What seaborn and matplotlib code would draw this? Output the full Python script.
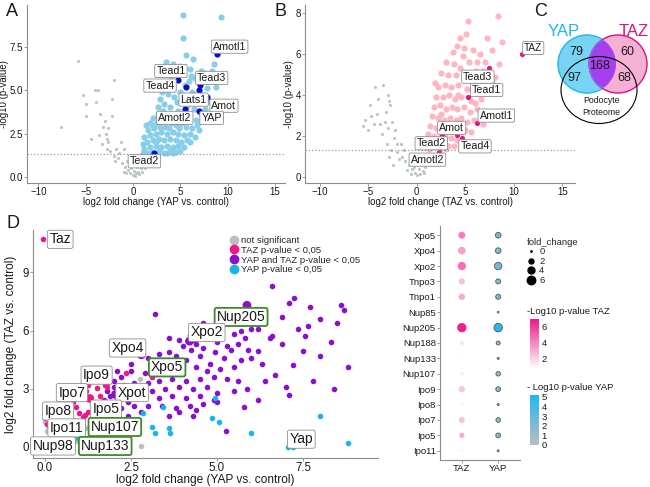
import numpy as np
import pandas as pd
import matplotlib.pyplot as plt
import seaborn as sns
from matplotlib.patches import Ellipse
from matplotlib.colors import LinearSegmentedColormap, Normalize
from matplotlib.cm import ScalarMappable
from matplotlib.lines import Line2D

sns.set_style("ticks")
plt.rcParams["font.family"] = ["Liberation Sans", "DejaVu Sans"]

# ── data: panel A (YAP volcano) ──────────────────────────────────────────────
a_sig_x = [5.3, 9.3, 5.3, 6.3, 3.5, 4.2, 5.0, 5.6, 6.0, 8.5, 7.2, 7.5, 8.3, 8.8, 6.5, 7.8, 8.0, 3.8,
           3.1, 4.3, 6.2, 5.9, 7.4, 6.8, 7.6, 6.0, 2.1, 2.6, 3.3, 3.9, 4.6, 5.2, 5.7, 6.4, 7.2, 2.0,
           2.5, 3.0, 3.5, 4.1, 4.7, 5.3, 5.9, 6.6, 1.6, 2.2, 2.8, 3.4, 4.0, 4.5, 5.1, 5.6, 6.2, 1.2,
           1.8, 2.4, 3.0, 3.6, 4.2, 4.8, 5.4, 6.0, 1.0, 1.5, 2.1, 2.7, 3.3, 3.9, 4.5, 5.1, 5.7, 1.2,
           1.8, 2.4, 3.0, 3.6, 4.2, 4.8, 5.4, 1.5, 2.0, 2.7, 3.3, 3.9, 4.5, 5.0, 1.1, 2.3, 3.6, 4.2,
           2.6, 1.8, 3.2, 4.4, 4.9, 5.5, 6.8, 7.0, 6.5, 1.4, 2.9, 3.7, 4.0, 4.8, 5.5, 6.1, 7.0, 5.0,
           2.4, 3.8]
a_sig_y = [9.3, 9.2, 8.0, 6.8, 6.6, 6.5, 6.4, 7.0, 6.2, 6.5, 6.1, 6.0, 6.1, 5.2, 5.7, 5.1, 4.4, 5.4,
           4.9, 4.6, 4.9, 5.5, 4.7, 4.3, 3.9, 2.0, 3.4, 3.6, 4.2, 4.0, 4.3, 4.5, 4.1, 3.9, 3.6, 3.0,
           3.1, 3.3, 3.5, 3.6, 3.8, 3.6, 3.4, 3.3, 2.7, 2.8, 2.9, 2.9, 3.1, 3.0, 3.1, 2.9, 2.8, 2.3,
           2.4, 2.5, 2.6, 2.5, 2.6, 2.5, 2.4, 2.5, 1.9, 2.0, 2.1, 2.2, 2.1, 2.2, 2.1, 2.0, 2.1, 1.6,
           1.7, 1.8, 1.7, 1.8, 1.7, 1.8, 1.7, 1.4, 1.45, 1.5, 1.4, 1.5, 1.45, 1.5, 1.35, 1.35, 1.35, 1.4,
           4.0, 3.1, 3.8, 3.3, 2.8, 3.3, 3.0, 2.7, 2.3, 3.0, 4.5, 4.8, 5.6, 5.9, 5.3, 5.8, 5.5, 4.9,
           2.0, 2.8]
a_ns_x = [-7.6, -5.8, -5.3, -5.0, -5.0, -4.0, -3.7, -3.9, -3.5, -4.4, -3.2, -2.9, -2.6, -2.2, -2.0,
          -2.2, -1.3, -1.0, -3.3, -2.8, -2.4, -2.0, -1.6, -1.2, -0.8, -0.5, -0.3, 0.0, 0.3, 0.5, 0.8,
          1.0, 1.2, 1.5, -0.6, -1.8, 0.2, 0.6, -2.6, -3.0, -2.7, -1.5, -0.2, 0.4, 0.9, 1.3, 1.8, -1.0,
          -0.7, 0.1, 2.0, -3.6, -1.9, -0.4, 1.6]
a_ns_y = [2.9, 6.7, 4.7, 4.2, 3.5, 5.0, 5.0, 4.3, 3.6, 2.2, 2.9, 2.5, 2.8, 3.5, 5.6,
          4.5, 2.0, 1.6, 1.9, 1.6, 1.5, 1.2, 1.1, 0.8, 0.6, 0.4, 0.25, 0.1, 0.2, 0.3, 0.5,
          0.7, 0.9, 1.0, 0.9, 1.6, 0.05, 0.15, 2.0, 3.2, 2.2, 1.4, 0.5, 0.6, 0.3, 0.5, 0.8, 0.3,
          0.2, 0.35, 1.1, 2.4, 0.9, 0.7, 1.2]
a_hit_names = ["Amotl1", "Tead1", "Tead4", "Tead3", "Lats1", "Amot", "Amotl2", "YAP", "Tead2"]
a_hit_x = [8.9, 4.8, 5.6, 7.1, 7.0, 7.8, 5.5, 7.0, 2.2]
a_hit_y = [7.1, 5.6, 5.2, 5.3, 5.0, 4.6, 3.9, 3.8, 1.35]
a_lab_x = [10.2, 4.0, 2.85, 8.3, 6.4, 9.6, 4.4, 8.3, 1.2]
a_lab_y = [7.5, 6.1, 5.26, 5.7, 4.45, 4.1, 3.4, 3.4, 0.9]

# ── data: panel B (TAZ volcano) ──────────────────────────────────────────────
b_sig_x = [5.3, 8.4, 8.8, 7.2, 4.5, 5.1, 4.2, 5.8, 6.5, 4.8, 6.2, 7.0, 7.8, 3.0, 3.8, 4.5, 5.5, 6.8,
           3.2, 4.0, 5.0, 5.8, 6.4, 2.2, 2.9, 3.5, 4.3, 5.2, 6.0, 7.5, 2.0, 2.7, 3.3, 3.9, 4.6, 5.6,
           6.6, 1.8, 2.4, 3.0, 3.6, 4.2, 4.9, 5.5, 6.2, 7.3, 1.6, 2.2, 2.8, 3.4, 4.0, 4.6, 5.2, 5.9,
           6.8, 1.4, 2.0, 2.6, 3.2, 3.8, 4.4, 5.0, 5.6, 1.2, 1.8, 2.3, 2.9, 3.5, 4.1, 4.7, 1.0, 1.5,
           2.0, 2.6, 3.2, 3.8, 1.3, 2.3, 3.0, 7.8, 8.1, 6.1, 3.7, 4.9, 2.5, 1.9, 8.5, 5.4, 2.5, 3.9,
           6.0, 4.3]
b_sig_y = [7.6, 7.85, 6.6, 6.8, 6.8, 7.0, 6.4, 6.2, 6.0, 5.9, 5.6, 5.6, 6.2, 5.6, 5.5, 5.3, 5.1, 5.2,
           5.0, 5.0, 4.8, 4.7, 4.6, 4.4, 4.5, 4.4, 4.5, 4.3, 4.2, 4.3, 3.9, 3.9, 4.0, 3.8, 3.9, 3.7,
           3.8, 3.4, 3.5, 3.3, 3.4, 3.3, 3.4, 3.2, 3.3, 3.2, 3.0, 2.9, 2.8, 2.9, 2.8, 2.9, 2.7, 2.8,
           2.6, 2.5, 2.4, 2.5, 2.4, 2.3, 2.4, 2.3, 2.2, 2.1, 2.0, 1.9, 2.0, 1.9, 1.8, 2.2, 1.7, 1.6,
           1.5, 1.6, 1.5, 1.5, 1.35, 1.4, 1.35, 4.7, 4.9, 5.2, 6.1, 6.3, 5.1, 4.6, 5.5, 5.6, 3.1, 2.5,
           3.6, 4.0]
b_ns_x = [-5.5, -5.3, -5.0, -4.8, -4.3, -4.0, -3.5, -3.0, -2.8, -4.4, -3.8, -3.2, -2.7, -4.1, -3.6,
          -3.0, -2.3, -2.0, -1.6, -3.1, -2.6, -2.0, -1.5, -1.2, -0.8, -0.5, -0.2, 0.0, 0.3, 0.6, 0.9,
          1.2, 1.5, -1.0, -0.6, 0.2, -2.4, -1.8, -1.3, -2.9, -2.2, 0.8, 1.0, -0.3, -4.7, -3.3, -2.5]
b_ns_y = [2.5, 2.8, 2.3, 3.5, 4.4, 3.8, 4.5, 4.0, 3.7, 2.6, 2.6, 3.2, 3.5, 3.1, 2.1,
          2.4, 1.9, 1.6, 1.6, 1.6, 1.3, 1.2, 1.0, 0.8, 0.6, 0.4, 0.2, 0.1, 0.15, 0.3, 0.5,
          0.7, 0.9, 0.35, 0.15, 0.4, 0.6, 0.9, 1.3, 1.0, 2.3, 0.2, 0.9, 0.5, 3.0, 2.7, 2.7]
b_hit_names = ["TAZ", "Tead3", "Tead1", "Amotl1", "Amot", "Tead4", "Tead2", "Amotl2"]
b_hit_x = [10.8, 7.4, 5.3, 6.2, 4.1, 4.7, 2.6, 2.3]
b_hit_y = [6.0, 5.3, 3.9, 2.65, 2.05, 1.9, 2.05, 1.2]
b_lab_x = [12.0, 6.3, 7.2, 8.2, 3.6, 6.0, 1.5, 1.1]
b_lab_y = [6.3, 4.9, 4.25, 3.0, 2.4, 1.5, 1.65, 0.85]

# ── data: panel C (Venn counts) ──────────────────────────────────────────────
venn_counts = {"yap_only": 79, "taz_only": 60, "both": 168, "yap_podo": 97, "taz_podo": 68}

# ── data: panel D (TAZ vs YAP fold change) ───────────────────────────────────
d_ns_x = [0.0, 0.05, 0.1, 0.0, 0.2, 0.3, 0.35, 0.4, 0.5, 0.55, 0.6, 0.7, 0.75, 0.8, 0.9, 0.95, 1.0,
          1.1, 1.15, 0.25, 0.45, 0.65, 0.15, 2.8, 2.75, 1.2, 0.85, 1.3, 0.05]
d_ns_y = [0.4, 0.8, 1.1, 1.3, 0.2, 0.6, 1.0, 1.3, 0.4, 0.8, 1.2, 0.1, 0.6, 1.0, 0.3, 0.8, 1.3,
          0.5, 1.0, 1.5, 0.05, 1.45, 0.0, 0.05, 3.5, 0.2, 1.4, 0.9, 0.1]
d_taz_x = [-0.05, 0.0, 0.05, 0.3, 0.5, 0.7, 0.9, 1.0, 1.1, 1.15, 1.25, 1.26, 1.5, 1.74, 1.8, 1.3,
           2.35, 3.1, 1.4, 0.8, 1.2, 1.6]
d_taz_y = [10.7, 1.5, 1.2, 1.6, 1.4, 1.7, 2.05, 1.75, 1.55, 1.65, 1.8, 3.2, 3.05, 3.2, 3.1, 2.5,
           3.8, 3.6, 1.9, 2.3, 2.9, 2.6]
d_yap_x = [0.93, 1.36, 2.33, 2.86, 3.1, 3.2, 3.43, 3.6, 3.63, 4.86, 4.94, 5.07, 6.0, 8.0, 8.8,
           7.05, 7.2, 1.25]
d_yap_y = [0.46, 0.72, 0.46, 1.75, 1.03, 0.72, 2.05, 0.98, 0.72, 1.5, 2.5, 1.3, 0.73, 1.6, 0.2,
           0.0, 0.0, 0.3]
d_both_x = [6.6, 7.24, 7.1, 8.6, 8.7, 8.5, 8.0, 7.35, 7.65, 7.55, 7.5, 8.0, 8.8, 7.8, 7.0, 6.2,
            6.3, 5.86, 6.18, 5.77, 5.26, 3.2, 6.0, 6.2, 5.7, 6.6, 6.55, 5.5, 5.3, 5.0, 5.4, 5.6,
            5.9, 6.0, 5.7, 5.2, 4.95, 4.6, 4.4, 4.3, 4.25, 4.2, 4.5, 4.1, 4.8, 5.5, 5.1, 4.7, 4.4,
            4.0, 3.8, 3.6, 3.5, 3.3, 3.2, 3.0, 2.8, 3.4, 3.1, 2.9, 2.5, 2.2, 2.0, 2.3, 2.6, 3.0,
            3.3, 3.7, 4.1, 4.5, 4.9, 5.3, 5.6, 3.5, 3.9, 4.3, 4.7, 5.0, 5.5, 3.1, 2.7, 2.3, 1.9,
            2.0, 1.7, 2.5, 2.9, 3.3, 3.7, 4.1, 4.5, 4.9, 3.4, 3.8, 4.2, 4.6, 2.6, 3.0, 3.6, 3.9,
            4.4, 2.2, 2.8, 1.6, 1.9, 2.4, 2.1, 1.8, 4.3, 4.7, 4.0, 3.9, 2.1, 2.0, 5.1, 5.2, 4.9,
            4.6, 6.9, 7.2, 6.7, 6.4, 7.1, 8.3, 8.4, 6.9, 7.7, 2.5, 1.8, 3.6, 5.8, 5.0, 4.3, 2.4]
d_both_y = [8.3, 7.7, 7.4, 7.3, 7.05, 6.4, 6.6, 6.1, 6.25, 5.7, 4.95, 4.7, 4.1, 3.4, 3.1, 4.95,
            4.3, 3.0, 2.4, 2.05, 0.83, 6.85, 6.1, 6.1, 6.0, 5.7, 5.6, 5.8, 5.2, 5.4, 5.0, 5.3,
            5.0, 4.6, 4.5, 4.6, 4.9, 5.1, 5.3, 5.5, 5.0, 5.75, 4.7, 4.5, 4.3, 4.1, 4.0, 3.9, 4.1,
            4.2, 4.7, 4.9, 4.3, 4.8, 4.5, 4.6, 4.8, 3.9, 4.0, 3.8, 3.9, 3.6, 3.4, 3.2, 3.3, 3.3,
            3.4, 3.5, 3.4, 3.5, 3.6, 3.5, 3.4, 3.0, 3.1, 3.0, 3.1, 2.8, 2.9, 2.9, 2.9, 2.7, 2.6,
            2.8, 2.4, 2.5, 2.5, 2.5, 2.6, 2.5, 2.6, 2.4, 2.1, 2.0, 2.1, 2.2, 2.1, 2.1, 1.6, 1.8,
            1.9, 2.0, 1.8, 2.2, 2.0, 2.3, 2.4, 2.9, 6.0, 5.9, 5.2, 5.5, 3.9, 3.1, 6.2, 6.5, 6.3,
            6.4, 5.3, 4.2, 3.7, 3.4, 2.7, 5.4, 3.0, 6.7, 7.2, 4.3, 3.3, 5.6, 5.6, 2.3, 1.6, 1.6]
d_big_x = [5.87, 4.2, 2.8, 1.3, 2.05]
d_big_y = [7.3, 5.45, 4.75, 2.5, 2.7]
d_big_grp = ["both", "both", "both", "taz", "both"]
d_lab_names = ["Taz", "Nup205", "Xpo2", "Xpo4", "Xpo5", "Ipo9", "Ipo7", "Xpot", "Ipo8", "Ipo5",
               "Ipo11", "Nup107", "Nup98", "Nup133", "Yap"]
d_lab_x = [0.44, 5.7, 4.7, 2.4, 3.55, 1.5, 0.78, 2.53, 0.38, 1.77, 0.63, 2.03, 0.23, 1.75, 7.45]
d_lab_y = [10.7, 6.7, 5.9, 5.1, 4.1, 3.7, 2.8, 2.8, 1.85, 1.95, 0.98, 1.03, 0.05, 0.05, 0.4]
d_lab_green = ["Nup205", "Xpo5", "Nup107", "Nup133"]

# ── data: dot plot (nuclear transport proteins) ──────────────────────────────
genes = ["Ipo11", "Ipo5", "Ipo7", "Ipo8", "Ipo9", "Nup107", "Nup133", "Nup188", "Nup205",
         "Nup85", "Tnpo1", "Tnpo3", "Xpo2", "Xpo4", "Xpo5"]
taz_fc = [0.9, 2.3, 2.8, 1.6, 3.2, 1.1, 0.9, 1.4, 7.3, 0.8, 3.4, 3.0, 5.9, 5.0, 4.1]
taz_logp = [1.0, 3.0, 2.4, 1.0, 2.3, 1.2, 0.8, 1.5, 6.8, 0.6, 3.0, 2.5, 4.6, 3.3, 4.2]
yap_fc = [0.2, 1.8, 1.6, 0.2, 1.8, 1.6, 0.2, 1.2, 6.0, 0.1, 2.0, 2.0, 4.5, 2.6, 2.6]
yap_logp = [0.3, 1.8, 1.5, 0.4, 1.9, 1.2, 0.5, 1.3, 5.0, 0.3, 2.0, 2.0, 2.5, 2.2, 2.3]

# ── colours ──────────────────────────────────────────────────────────────────
C_GRAY = "#bac5c8"
C_SKY = "#87ceeb"
C_BLUE = "#0a0acd"
C_PINK = "#ffb6c1"
C_DEEP = "#e0157f"
D_GRAY = "#bebebe"
D_MAG = "#f0168c"
D_PUR = "#8a10d0"
D_CYA = "#1ab5e8"
TXT = "#1a1a1a"
AX = "#8c8c8c"

W, H = 650, 487


def box(l, t, r, b):
    return [l / W, 1 - b / H, (r - l) / W, (b - t) / H]


def style(ax, fs=7):
    sns.despine(ax=ax)
    for s in ["left", "bottom"]:
        ax.spines[s].set_color(AX)
        ax.spines[s].set_linewidth(0.8)
    ax.tick_params(colors=AX, labelcolor=TXT, labelsize=fs, length=2, width=0.6, pad=1)


def tag(ax, x, y, s, fs=7.7, edge="#8c8c8c", lw=0.6):
    ax.text(x, y, s, fontsize=fs, ha="center", va="center", color=TXT, zorder=5,
            bbox=dict(boxstyle="round,pad=0.15,rounding_size=0.15", fc="white", ec=edge, lw=lw))


fig = plt.figure(figsize=(6.5, 4.87), dpi=100)

# ── A ────────────────────────────────────────────────────────────────────────
axA = fig.add_axes(box(27, 5, 285, 183))
sns.scatterplot(x=a_ns_x, y=a_ns_y, color=C_GRAY, s=5, linewidth=0, ax=axA)
sns.scatterplot(x=a_sig_x, y=a_sig_y, color=C_SKY, s=20, linewidth=0, ax=axA)
sns.scatterplot(x=a_hit_x, y=a_hit_y, color=C_BLUE, s=20, linewidth=0, ax=axA)
axA.axhline(1.3, color="#9a9a9a", ls=":", lw=0.9)
for name, lx, ly in zip(a_hit_names, a_lab_x, a_lab_y):
    tag(axA, lx, ly, name)
axA.set_xlim(-11.2, 16.05)
axA.set_ylim(-0.35, 9.9)
axA.set_xticks([-10, -5, 0, 5, 10, 15])
axA.set_yticks([0, 2.5, 5, 7.5], ["0.0", "2.5", "5.0", "7.5"])
axA.set_xlabel("log2 fold change (YAP vs. control)", fontsize=7, color=TXT)
axA.set_ylabel("-log10 (p-value)", fontsize=7, color=TXT)
axA.xaxis.set_label_coords(0.5, -0.078)
axA.yaxis.set_label_coords(-0.068, 0.5)
style(axA)

# ── B ────────────────────────────────────────────────────────────────────────
axB = fig.add_axes(box(305, 5, 575, 183))
sns.scatterplot(x=b_ns_x, y=b_ns_y, color=C_GRAY, s=5, linewidth=0, ax=axB)
sns.scatterplot(x=b_sig_x, y=b_sig_y, color=C_PINK, s=20, linewidth=0, ax=axB)
sns.scatterplot(x=b_hit_x, y=b_hit_y, color=C_DEEP, s=14, linewidth=0, ax=axB)
axB.axhline(1.3, color="#9a9a9a", ls=":", lw=0.9)
for name, lx, ly in zip(b_hit_names, b_lab_x, b_lab_y):
    tag(axB, lx, ly, name, fs=7.2 if name == "TAZ" else 7.7)
axB.set_xlim(-11.5, 16.3)
axB.set_ylim(-0.29, 8.4)
axB.set_xticks([-10, -5, 0, 5, 10, 15])
axB.set_yticks([0, 2, 4, 6, 8])
axB.set_xlabel("log2 fold change (TAZ vs. control)", fontsize=7, color=TXT)
axB.set_ylabel("-log10 (p-value)", fontsize=7, color=TXT)
axB.xaxis.set_label_coords(0.5, -0.078)
axB.yaxis.set_label_coords(-0.04, 0.5)
style(axB)

# ── C (Venn) ─────────────────────────────────────────────────────────────────
axC = fig.add_axes(box(530, 0, 650, 130))
axC.set_xlim(530, 650)
axC.set_ylim(130, 0)
axC.axis("off")
yap_c = Ellipse((587, 64), 58, 58, fc="#78d4f4", ec="#22b5e6", lw=1.0)
taz_c = Ellipse((618, 64), 58, 58, fc="#f6b0d4", ec="#d6137f", lw=1.0)
axC.add_patch(yap_c)
axC.add_patch(taz_c)
lens = Ellipse((618, 64), 58, 58, fc="#a640ee", ec="#7a7af0", lw=0.8)
axC.add_patch(lens)
lens.set_clip_path(yap_c)
axC.add_patch(Ellipse((599, 90), 76, 67, fc="none", ec="black", lw=0.8))
axC.text(576, 52, str(venn_counts["yap_only"]), fontsize=9, ha="center", va="center", color=TXT)
axC.text(627, 52, str(venn_counts["taz_only"]), fontsize=9, ha="center", va="center", color=TXT)
axC.text(600, 66, str(venn_counts["both"]), fontsize=9, ha="center", va="center", color=TXT)
axC.text(574, 78, str(venn_counts["yap_podo"]), fontsize=9, ha="center", va="center", color=TXT)
axC.text(624, 78, str(venn_counts["taz_podo"]), fontsize=9, ha="center", va="center", color=TXT)
axC.text(601, 100, "Podocyte", fontsize=6.3, ha="center", va="center", color=TXT)
axC.text(601, 112, "Proteome", fontsize=6.3, ha="center", va="center", color=TXT)
axC.text(564, 32, "YAP", fontsize=12, ha="center", va="center", color="#22b5e6")
axC.text(634, 32, "TAZ", fontsize=12, ha="center", va="center", color="#d6137f")

# ── D scatter ────────────────────────────────────────────────────────────────
axD = fig.add_axes(box(33, 230, 378, 458))
sns.scatterplot(x=d_ns_x, y=d_ns_y, color=D_GRAY, s=16, linewidth=0, ax=axD)
sns.scatterplot(x=d_both_x, y=d_both_y, color=D_PUR, s=16, linewidth=0, ax=axD)
sns.scatterplot(x=d_yap_x, y=d_yap_y, color=D_CYA, s=16, linewidth=0, ax=axD)
sns.scatterplot(x=d_taz_x, y=d_taz_y, color=D_MAG, s=16, linewidth=0, ax=axD)
big = pd.DataFrame({"x": d_big_x, "y": d_big_y, "grp": d_big_grp})
sns.scatterplot(data=big, x="x", y="y", hue="grp", palette={"both": D_PUR, "taz": D_MAG},
                s=40, linewidth=0, ax=axD, legend=False)
for name, lx, ly in zip(d_lab_names, d_lab_x, d_lab_y):
    if name in d_lab_green:
        tag(axD, lx, ly, name, fs=10, edge="#3f8a2a", lw=1.3)
    else:
        tag(axD, lx, ly, name, fs=10)
axD.set_xlim(-0.35, 9.68)
axD.set_ylim(-0.57, 11.18)
axD.set_xticks([0, 2.5, 5, 7.5], ["0.0", "2.5", "5.0", "7.5"])
axD.set_yticks([0, 3, 6, 9])
axD.set_xlabel("log2 fold change (YAP vs. control)", fontsize=8.6, color=TXT)
axD.set_ylabel("log2 fold change (TAZ vs. control)", fontsize=8.6, color=TXT)
axD.xaxis.set_label_coords(0.5, -0.068)
axD.yaxis.set_label_coords(-0.045, 0.5)
style(axD, fs=8.3)

cat_handles = [Line2D([], [], marker="o", ls="", color=c, markersize=6)
               for c in [D_GRAY, D_MAG, D_PUR, D_CYA]]
cat_labels = ["not significant", "TAZ p-value < 0,05", "YAP and TAZ p-value < 0,05",
              "YAP p-value < 0,05"]
fig.legend(cat_handles, cat_labels, loc="upper left", bbox_to_anchor=(230 / W, 1 - 236 / H),
           frameon=False, fontsize=6.8, handlelength=0.8, handletextpad=0.4,
           labelspacing=0.08, borderpad=0, borderaxespad=0)

# ── dot plot ─────────────────────────────────────────────────────────────────
axE = fig.add_axes(box(440, 226, 520, 460))
pos = list(range(len(genes)))
taz_cmap = LinearSegmentedColormap.from_list("taz", ["#ffffff", "#eb1a8a"])
yap_cmap = LinearSegmentedColormap.from_list("yap", ["#bdbdbd", "#1eb8ee"])
taz_norm = Normalize(0.7, 7.0)
yap_norm = Normalize(0.0, 5.2)
size_of = lambda v: 1 + 6 * np.asarray(v)
dots_taz = pd.DataFrame({"col": 0, "gene": pos, "fc": taz_fc, "p": taz_logp})
dots_yap = pd.DataFrame({"col": 1, "gene": pos, "fc": yap_fc, "p": yap_logp})
axE.scatter(dots_taz["col"], dots_taz["gene"], s=size_of(dots_taz["fc"]),
            c=taz_cmap(taz_norm(dots_taz["p"])), linewidths=0, zorder=3)
axE.scatter(dots_yap["col"], dots_yap["gene"], s=size_of(dots_yap["fc"]),
            c=yap_cmap(yap_norm(dots_yap["p"])), edgecolors="#555555", linewidths=0.6, zorder=3)
axE.set_xlim(-0.6, 1.6)
axE.set_ylim(-0.6, len(genes) - 0.4)
axE.set_xticks([0, 1], ["TAZ", "YAP"])
axE.set_yticks(pos, genes)
axE.set_xlabel("")
axE.set_ylabel("")
style(axE, fs=6.8)

size_vals = [0, 2, 4, 6]
size_handles = [Line2D([], [], marker="o", ls="", color="black", markersize=np.sqrt(size_of(v)))
                for v in size_vals]
fig.legend(size_handles, [str(v) for v in size_vals], title="fold_change",
           loc="upper left", bbox_to_anchor=(527 / W, 1 - 238 / H), frameon=False,
           fontsize=6.8, title_fontsize=6.8, handlelength=0.8, handletextpad=0.5,
           labelspacing=0.05, borderpad=0, borderaxespad=0, alignment="left")

fig.text(527 / W, 1 - 312 / H, "-Log10 p-value TAZ", fontsize=6.8, color=TXT, va="center")
cax1 = fig.add_axes(box(530, 319, 539, 369))
cb1 = fig.colorbar(ScalarMappable(taz_norm, taz_cmap), cax=cax1, ticks=[2, 4, 6])
fig.text(527 / W, 1 - 388 / H, "- Log10 p-value YAP", fontsize=6.8, color=TXT, va="center")
cax2 = fig.add_axes(box(530, 395, 539, 445))
cb2 = fig.colorbar(ScalarMappable(yap_norm, yap_cmap), cax=cax2, ticks=[0, 1, 2, 3, 4, 5])
for cb in (cb1, cb2):
    cb.outline.set_visible(False)
    cb.ax.tick_params(length=0, labelsize=6.8, labelcolor=TXT, pad=2)

# panel letters
for letter, px, py in [("A", 12, 11), ("B", 280, 11), ("C", 541, 12), ("D", 13, 223)]:
    fig.text(px / W, 1 - py / H, letter, fontsize=13, ha="center", va="center", color=TXT)

fig.savefig("out.png", dpi=100)
